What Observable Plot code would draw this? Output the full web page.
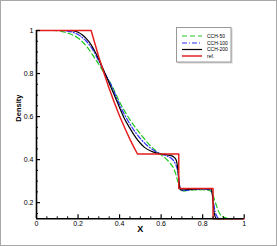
<!DOCTYPE html>
<html><head><meta charset="utf-8">
<script src="https://cdn.jsdelivr.net/npm/d3@7"></script>
<script src="https://cdn.jsdelivr.net/npm/@observablehq/plot@0.6"></script>
<style>
body{margin:0;background:#fff;font-family:"Liberation Sans",Arial,sans-serif}
#wrap{position:relative;width:277px;height:246px;overflow:hidden}
#border{position:absolute;left:0;top:0;width:275px;height:244px;border:1px solid #a8a8a8;pointer-events:none}
#legend{position:absolute;left:176px;top:27px}
</style></head><body><div id="wrap"><div id="border"></div></div>
<script>
const seriesNames = ["CCH-50", "CCH-100", "CCH-200", "ref."];
const seriesColors = ["#1ec81e", "#2c2cff", "#000000", "#e41c1c"];
const seriesDash = ["5,3", "5,2,1,2", null, null];
const seriesWidth = [1.2, 1.2, 1.2, 1.45];

const cch50X = [0,0.08,0.12,0.16,0.2,0.24,0.28,0.3,0.33,0.36,0.4,0.45,0.5,0.55,0.58,0.6,0.62,0.64,0.66,0.67,0.68,0.69,0.7,0.71,0.73,0.76,0.8,0.83,0.84,0.85,0.855,0.865,0.875,0.885,0.9,0.92,0.94];
const cch50Y = [1,1,0.996,0.985,0.965,0.927,0.872,0.843,0.795,0.748,0.668,0.585,0.52,0.463,0.437,0.422,0.407,0.387,0.36,0.335,0.3,0.267,0.255,0.254,0.257,0.259,0.26,0.257,0.252,0.235,0.22,0.19,0.163,0.145,0.133,0.127,0.125];

const cch100X = [0,0.12,0.15,0.18,0.21,0.24,0.27,0.3,0.33,0.36,0.4,0.45,0.5,0.53,0.56,0.6,0.63,0.65,0.66,0.67,0.68,0.685,0.69,0.695,0.7,0.75,0.8,0.835,0.845,0.85,0.855,0.86,0.868,0.876,0.9];
const cch100Y = [1,1,0.997,0.99,0.975,0.95,0.912,0.858,0.8,0.745,0.655,0.565,0.498,0.468,0.446,0.426,0.416,0.405,0.395,0.377,0.345,0.31,0.272,0.257,0.256,0.261,0.263,0.26,0.247,0.22,0.185,0.158,0.138,0.128,0.125];

const cch200X = [0,0.16,0.18,0.2,0.22,0.24,0.26,0.28,0.3,0.32,0.34,0.36,0.38,0.4,0.42,0.45,0.48,0.5,0.52,0.55,0.58,0.6,0.63,0.65,0.66,0.67,0.675,0.68,0.685,0.69,0.695,0.7,0.75,0.8,0.84,0.845,0.85,0.855,0.86,0.865,0.88];
const cch200Y = [1,1,0.998,0.992,0.98,0.962,0.938,0.905,0.866,0.822,0.778,0.733,0.688,0.641,0.597,0.545,0.5,0.476,0.457,0.44,0.43,0.426,0.422,0.418,0.413,0.403,0.39,0.36,0.31,0.27,0.26,0.259,0.263,0.265,0.264,0.252,0.2,0.155,0.135,0.127,0.125];

const refX = [0,0.263,0.28,0.3,0.325,0.35,0.375,0.4,0.425,0.45,0.47,0.486,0.685,0.685,0.85,0.85,1];
const refY = [1,1,0.943,0.877,0.801,0.730,0.664,0.603,0.547,0.494,0.456,0.426,0.426,0.266,0.266,0.125,0.125];

const xMajor = [0, 0.2, 0.4, 0.6, 0.8, 1];
const xTickLabels = ["0", "0.2", "0.4", "0.6", "0.8", "1"];
const xMinor = [0.05,0.1,0.15,0.25,0.3,0.35,0.45,0.5,0.55,0.65,0.7,0.75,0.85,0.9,0.95];
const yMajor = [0.2, 0.4, 0.6, 0.8, 1];
const yTickLabels = ["0.2", "0.4", "0.6", "0.8", "1"];
const yMinor = [0.15,0.25,0.3,0.35,0.45,0.5,0.55,0.65,0.7,0.75,0.85,0.9,0.95];
const xDomain = [0, 1];
const yDomain = [0.125, 1];

const xs = [cch50X, cch100X, cch200X, refX];
const ys = [cch50Y, cch100Y, cch200Y, refY];
const rows = seriesNames.map((name, s) => xs[s].map((x, i) => ({series: name, x, y: ys[s][i]})));

const lineMarks = rows.map((data, s) => Plot.line(data, {
  x: "x", y: "y",
  stroke: seriesColors[s],
  strokeWidth: seriesWidth[s],
  strokeDasharray: seriesDash[s],
  curve: s === 3 ? "linear" : "monotone-x"
}));

const plot = Plot.plot({
  width: 277, height: 246,
  marginLeft: 36, marginRight: 33.3, marginTop: 30, marginBottom: 27.7,
  style: {fontFamily: "'Liberation Sans', Arial, sans-serif", fontSize: "7px", background: "transparent", overflow: "visible", color: "#000"},
  x: {domain: xDomain, label: null},
  y: {domain: yDomain, label: null},
  marks: [
    ...lineMarks,
    Plot.ruleX([xDomain[0]], {stroke: "#000", strokeWidth: 1.6}),
    Plot.ruleY([yDomain[0]], {stroke: "#000", strokeWidth: 1.6}),
    Plot.axisX({ticks: xMajor, tickSize: -4, strokeWidth: 1.2, tickFormat: () => ""}),
    Plot.axisX({ticks: xMinor, tickSize: -2, strokeWidth: 1, tickFormat: () => ""}),
    Plot.axisX({ticks: xMajor, tickSize: 0, tickPadding: 2, tickFormat: d => xTickLabels[xMajor.indexOf(d)]}),
    Plot.axisY({ticks: yMajor, tickSize: -4, strokeWidth: 1.2, tickFormat: () => ""}),
    Plot.axisY({ticks: yMinor, tickSize: -2, strokeWidth: 1, tickFormat: () => ""}),
    Plot.axisY({ticks: yMajor, tickSize: 0, tickPadding: 3, tickFormat: d => yTickLabels[yMajor.indexOf(d)]}),
    Plot.text(["Density"], {frameAnchor: "left", rotate: -90, dx: -18, dy: -3, fontWeight: "bold", fontSize: 7.5}),
    Plot.text(["X"], {frameAnchor: "bottom", dy: 13, fontWeight: "bold", fontSize: 9})
  ]
});
document.getElementById("wrap").prepend(plot);

// legend
const lg = d3.select("#wrap").append("svg").attr("id", "legend").attr("width", 58).attr("height", 38);
lg.append("rect").attr("x", 1.5).attr("y", 1.5).attr("width", 55).attr("height", 35).attr("fill", "#d0d0d0");
lg.append("rect").attr("x", 0.5).attr("y", 0.5).attr("width", 54.5).attr("height", 34.5).attr("fill", "#fff").attr("stroke", "#999").attr("stroke-width", 1);
const rowY = [9, 16, 22.5, 29];
seriesNames.forEach((name, s) => {
  lg.append("line").attr("x1", 6).attr("x2", 26).attr("y1", rowY[s]).attr("y2", rowY[s])
    .attr("stroke", seriesColors[s]).attr("stroke-width", seriesWidth[s])
    .attr("stroke-dasharray", seriesDash[s]);
  lg.append("text").attr("x", 31).attr("y", rowY[s]).attr("dy", "0.35em")
    .attr("font-size", 5).attr("font-family", "'Liberation Sans', Arial, sans-serif").attr("fill", "#000").text(name);
});
</script></body></html>
